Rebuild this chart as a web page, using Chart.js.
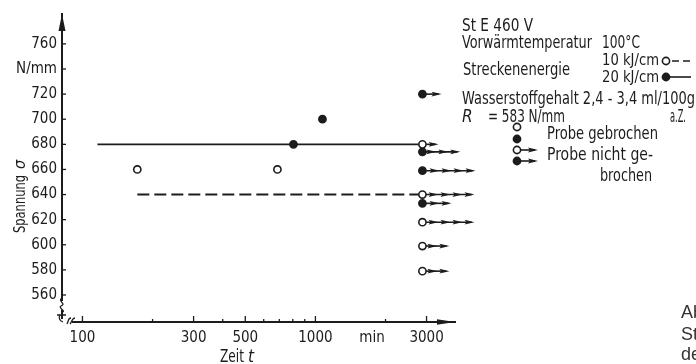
<!DOCTYPE html>
<html><head><meta charset="utf-8">
<script src="https://cdn.jsdelivr.net/npm/chart.js@4.4.0/dist/chart.umd.min.js"></script>
<style>html,body{margin:0;padding:0;background:#fff}canvas{display:block}</style>
</head><body>
<canvas id="c" width="696" height="364"></canvas>
<script>
// ---- data ----
const yTickValues = [560,580,600,620,640,660,680,700,720,740,760];
const yTickText = {740:'N/mm'};
const xTickValues = [100,200,300,400,500,600,700,800,900,1000,1750,2000,3000];
const xTickText = {100:'100',300:'300',500:'500',1000:'1000',1750:'min',3000:'3000'};
const xLabelOnly = [1750];
// broken specimens
const brokenOpenT = [172, 687];      // 10 kJ/cm
const brokenOpenS = [660, 660];
const brokenFilledT = [805, 1072];   // 20 kJ/cm
const brokenFilledS = [680, 700];
// run-outs (not broken), all at t = 2880 min
const runT = 2880;
const runS      = [720, 680, 674, 659, 640, 633, 618, 599, 579];
const runFilled = [true, false, true, true, false, true, false, false, false];
const runTip    = [3480, 3380, 4190, 4870, 4820, 3840, 4820, 3760, 3760];
// limit lines
const line20T = [116, 2880], line20S = [680, 680];
const line10T = [172, 2880], line10S = [640, 640];

const dark = '#1c1c1c';
const FONT = "'DejaVu Sans Condensed','DejaVu Sans',sans-serif";

const pts = (T,S) => T.map((t,i)=>({x:t,y:S[i]}));
const runOpen = [], runFull = [];
runS.forEach((s,i)=>{ (runFilled[i]?runFull:runOpen).push({x:runT,y:s}); });

// text drawn with horizontal compression so that it spans width w
function txt(ctx, s, x, y, size, w, o={}) {
  ctx.save();
  ctx.font = (o.italic?'italic ':'') + size + 'px ' + (o.family||FONT);
  ctx.fillStyle = o.color || dark;
  ctx.textAlign = 'left';
  ctx.textBaseline = 'alphabetic';
  const m = ctx.measureText(s).width;
  const k = w ? w/m : 1;
  ctx.translate(x,y); ctx.scale(k,1);
  ctx.fillText(s, 0, 0);
  ctx.restore();
}
function circ(ctx, x, y, filled) {
  ctx.save();
  ctx.beginPath(); ctx.arc(x,y,3.6,0,Math.PI*2);
  ctx.fillStyle = filled?dark:'#fff'; ctx.fill();
  ctx.lineWidth=1.6; ctx.strokeStyle=dark; ctx.stroke();
  ctx.restore();
}
function arrow(ctx, x0, x1, y) {
  ctx.save();
  ctx.strokeStyle=dark; ctx.fillStyle=dark; ctx.lineWidth=1.6;
  ctx.beginPath(); ctx.moveTo(x0,y); ctx.lineTo(x1-3,y); ctx.stroke();
  for (let tip=x1; tip-9 > x0+1; tip-=12) {
    ctx.beginPath(); ctx.moveTo(tip,y); ctx.lineTo(tip-10,y-2.4); ctx.lineTo(tip-8,y); ctx.lineTo(tip-10,y+2.4); ctx.closePath(); ctx.fill();
  }
  ctx.restore();
}

const deco = {
  id:'deco',
  beforeDatasetsDraw(chart) {
    const {ctx, scales:{x:xs, y:ys}} = chart;
    runS.forEach((s,i)=>{
      const y = ys.getPixelForValue(s);
      arrow(ctx, xs.getPixelForValue(runT), xs.getPixelForValue(runTip[i]), y);
    });
  },
  afterDraw(chart) {
    const {ctx, chartArea:ca, scales:{x:xs, y:ys}} = chart;
    ctx.save();
    ctx.strokeStyle=dark; ctx.fillStyle=dark; ctx.lineWidth=1.3;
    // tick marks (inside)
    ys.ticks.forEach(t=>{ const p=ys.getPixelForValue(t.value); ctx.beginPath(); ctx.moveTo(ca.left,p); ctx.lineTo(ca.left+4,p); ctx.stroke(); });
    xs.ticks.forEach(t=>{ if (xLabelOnly.includes(t.value)) return; const p=xs.getPixelForValue(t.value); const len = xTickText[t.value]?6:3; ctx.beginPath(); ctx.moveTo(p,ca.bottom); ctx.lineTo(p,ca.bottom-len); ctx.stroke(); });
    // axis arrowheads
    ctx.beginPath(); ctx.moveTo(ca.left, ca.top); ctx.lineTo(ca.left-3.5, ca.top+17); ctx.lineTo(ca.left+3.5, ca.top+17); ctx.closePath(); ctx.fill();
    ctx.beginPath(); ctx.moveTo(ca.right, ca.bottom); ctx.lineTo(ca.right-18, ca.bottom-2.8); ctx.lineTo(ca.right-18, ca.bottom+2.8); ctx.closePath(); ctx.fill();
    // axis breaks
    ctx.fillStyle='#fff';
    ctx.fillRect(ca.left-3, 301, 6, 9);
    ctx.fillRect(ca.left-2, ca.bottom-3, 12, 6);
    ctx.strokeStyle=dark; ctx.lineWidth=1.3;
    ctx.beginPath(); ctx.moveTo(ca.left,298); ctx.bezierCurveTo(ca.left-5,301, ca.left+5,304, ca.left-1,306); ctx.bezierCurveTo(ca.left-4,308, ca.left+3,310, ca.left+1,312); ctx.stroke();
    ctx.beginPath(); ctx.moveTo(57,315); ctx.lineTo(66,315); ctx.moveTo(60,315); ctx.bezierCurveTo(58,318, 60,321, 63,322); ctx.stroke();
    ctx.beginPath(); ctx.moveTo(67,324); ctx.bezierCurveTo(69,320, 68,318, 71,318); ctx.moveTo(70,324); ctx.bezierCurveTo(73,320, 72,318, 75,318); ctx.stroke();
    ctx.restore();

    // axis titles
    ctx.save(); ctx.translate(25,233); ctx.rotate(-Math.PI/2);
    txt(ctx,'Spannung',0,0,16,58);
    txt(ctx,'σ',64,0,16,0,{italic:true});
    ctx.restore();
    txt(ctx,'Zeit',220,362,17,24);
    txt(ctx,'t',248,362,17,0,{italic:true});

    // legend / annotation block
    txt(ctx,'St E 460 V',462,31,17,71);
    txt(ctx,'Vorwärmtemperatur',462,48,17,130);
    txt(ctx,'100°C',602,48,17,38);
    txt(ctx,'10 kJ/cm',602,65,16,57);
    txt(ctx,'Streckenenergie',463,75,17,107);
    txt(ctx,'20 kJ/cm',602,82,16,57);
    circ(ctx,666,61,false);
    ctx.save(); ctx.strokeStyle=dark; ctx.lineWidth=1.6;
    ctx.beginPath(); ctx.moveTo(672,61); ctx.lineTo(679,61); ctx.moveTo(683,61); ctx.lineTo(690,61); ctx.stroke();
    ctx.beginPath(); ctx.moveTo(670,77); ctx.lineTo(691,77); ctx.stroke(); ctx.restore();
    circ(ctx,666,77,true);
    txt(ctx,'Wasserstoffgehalt 2,4 - 3,4 ml/100g',462,104,17,233);
    txt(ctx,'R',462,122,17,0,{italic:true});
    txt(ctx,'= 583 N/mm',488,122,17,77);
    txt(ctx,'a.Z.',670,122,17,16);
    circ(ctx,517,127,false);
    circ(ctx,517,139,true);
    arrow(ctx,517,538,150); circ(ctx,517,150,false);
    arrow(ctx,517,538,161); circ(ctx,517,161,true);
    txt(ctx,'Probe gebrochen',547,139,17,111);
    txt(ctx,'Probe nicht ge-',547,160,17,106);
    txt(ctx,'brochen',600,181,17,52);
    // cropped caption at the right edge
    const cap = {family:"'Liberation Sans',Arial,sans-serif", color:'#333'};
    txt(ctx,'Abb.',681,318,18,0,cap);
    txt(ctx,'Stahl',681,340,18,0,cap);
    txt(ctx,'der',681,360,18,0,cap);
  }
};

new Chart(document.getElementById('c'), {
  data: { datasets: [
    {type:'line', data: pts(line20T,line20S), borderColor:dark, borderWidth:1.6, pointRadius:0, order:3},
    {type:'line', data: pts(line10T,line10S), borderColor:dark, borderWidth:2, borderDash:[12,5], pointRadius:0, order:3},
    {type:'scatter', data: runOpen, pointRadius:3.6, pointBackgroundColor:'#fff', pointBorderColor:dark, pointBorderWidth:1.6, order:1},
    {type:'scatter', data: runFull, pointRadius:3.6, pointBackgroundColor:dark, pointBorderColor:dark, pointBorderWidth:1.6, order:1},
    {type:'scatter', data: pts(brokenOpenT,brokenOpenS), pointRadius:3.6, pointBackgroundColor:'#fff', pointBorderColor:dark, pointBorderWidth:1.6, order:1},
    {type:'scatter', data: pts(brokenFilledT,brokenFilledS), pointRadius:3.6, pointBackgroundColor:dark, pointBorderColor:dark, pointBorderWidth:1.6, order:1}
  ]},
  options: {
    responsive:false, animation:false, events:[],
    layout:{padding:{left:0, top:8, right:241, bottom:0}},
    plugins:{legend:{display:false}, tooltip:{enabled:false}},
    scales:{
      x:{type:'logarithmic', position:'bottom', min:81.7, max:3974,
        afterBuildTicks:s=>{ s.ticks = xTickValues.map(v=>({value:v})); },
        afterFit:s=>{ s.height = 42; },
        grid:{display:false, drawTicks:false}, border:{display:true, color:dark, width:2},
        ticks:{autoSkip:false, maxRotation:0, minRotation:0, padding:7, color:dark,
          font:{family:FONT, size:15}, callback:v=>xTickText[v]||''}},
      y:{type:'linear', position:'left', min:538.5, max:783.8,
        afterBuildTicks:s=>{ s.ticks = yTickValues.map(v=>({value:v})); },
        afterFit:s=>{ s.width = 62; },
        grid:{display:false, drawTicks:false}, border:{display:true, color:dark, width:2},
        ticks:{autoSkip:false, padding:5, color:dark, font:{family:FONT, size:15},
          callback:v=>yTickText[v]||String(v)}}
    }
  },
  plugins:[deco]
});
</script>
</body></html>
